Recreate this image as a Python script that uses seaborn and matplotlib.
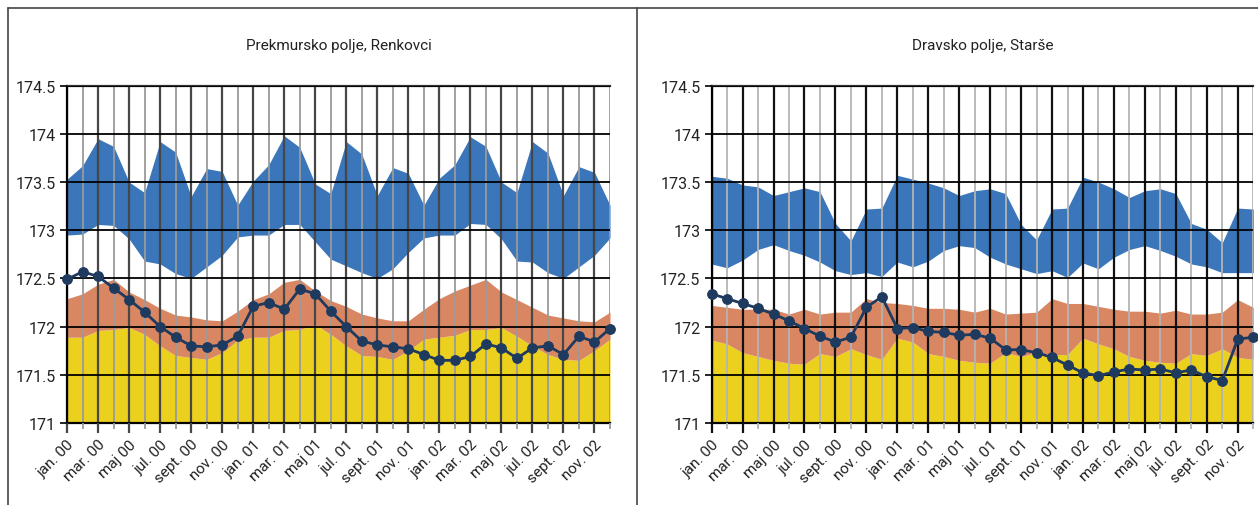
import matplotlib
matplotlib.use("Agg")
import matplotlib.pyplot as plt
import numpy as np
import pandas as pd
import seaborn as sns

# Months Jan 2000 - Dec 2002 (Slovene abbreviations)
month_names = ["jan.", "feb.", "mar.", "apr.", "maj", "jun.",
               "jul.", "avg.", "sept.", "okt.", "nov.", "dec."]
years = ["00", "01", "02"]
month_labels = [f"{m} {y}" for y in years for m in month_names]

# --- Prekmursko polje, Renkovci ---
renk_lower = [171.89, 171.89, 171.96, 171.97, 171.99, 171.92, 171.80, 171.70, 171.68, 171.66, 171.73, 171.86,
              171.89, 171.89, 171.96, 171.97, 172.02, 171.92, 171.80, 171.70, 171.69, 171.66, 171.75, 171.87,
              171.89, 171.91, 171.97, 171.97, 171.99, 171.90, 171.80, 171.71, 171.66, 171.65, 171.75, 171.87]
renk_middle = [172.29, 172.34, 172.44, 172.49, 172.36, 172.28, 172.19, 172.12, 172.10, 172.07, 172.06, 172.16,
               172.28, 172.34, 172.46, 172.49, 172.37, 172.27, 172.21, 172.13, 172.09, 172.06, 172.06, 172.18,
               172.29, 172.37, 172.43, 172.49, 172.36, 172.28, 172.20, 172.12, 172.09, 172.06, 172.05, 172.15]
renk_upper_lo = [172.95, 172.96, 173.06, 173.05, 172.91, 172.68, 172.65, 172.55, 172.50, 172.62, 172.74, 172.93,
                 172.95, 172.95, 173.06, 173.06, 172.88, 172.70, 172.63, 172.56, 172.50, 172.60, 172.77, 172.92,
                 172.95, 172.95, 173.07, 173.06, 172.91, 172.68, 172.67, 172.56, 172.50, 172.62, 172.74, 172.92]
renk_upper_hi = [173.53, 173.67, 173.95, 173.87, 173.50, 173.39, 173.92, 173.81, 173.35, 173.64, 173.61, 173.26,
                 173.51, 173.68, 173.98, 173.86, 173.48, 173.38, 173.92, 173.79, 173.36, 173.65, 173.59, 173.26,
                 173.54, 173.68, 173.97, 173.87, 173.50, 173.39, 173.92, 173.80, 173.36, 173.66, 173.60, 173.26]
renk_level = [172.49, 172.57, 172.52, 172.40, 172.28, 172.15, 172.00, 171.89, 171.80, 171.79, 171.81, 171.90,
              172.21, 172.25, 172.18, 172.39, 172.34, 172.16, 172.00, 171.85, 171.81, 171.79, 171.77, 171.71,
              171.65, 171.65, 171.69, 171.82, 171.78, 171.67, 171.78, 171.80, 171.71, 171.90, 171.84, 171.98]

# --- Dravsko polje, Starše ---
star_lower = [171.86, 171.82, 171.73, 171.69, 171.65, 171.62, 171.61, 171.72, 171.69, 171.77, 171.71, 171.66,
              171.88, 171.84, 171.72, 171.69, 171.65, 171.63, 171.62, 171.73, 171.69, 171.73, 171.71, 171.71,
              171.88, 171.82, 171.77, 171.69, 171.65, 171.63, 171.62, 171.72, 171.70, 171.77, 171.68, 171.66]
star_middle = [172.22, 172.20, 172.18, 172.18, 172.18, 172.13, 172.18, 172.13, 172.15, 172.15, 172.29, 172.25,
               172.24, 172.22, 172.19, 172.19, 172.18, 172.15, 172.19, 172.13, 172.14, 172.15, 172.29, 172.24,
               172.24, 172.21, 172.18, 172.16, 172.16, 172.14, 172.17, 172.13, 172.13, 172.15, 172.28, 172.20]
star_upper_lo = [172.65, 172.61, 172.69, 172.80, 172.85, 172.79, 172.74, 172.67, 172.58, 172.54, 172.56, 172.52,
                 172.67, 172.62, 172.68, 172.79, 172.84, 172.82, 172.72, 172.65, 172.60, 172.55, 172.58, 172.51,
                 172.66, 172.60, 172.72, 172.80, 172.84, 172.79, 172.73, 172.65, 172.62, 172.56, 172.56, 172.56]
star_upper_hi = [173.56, 173.54, 173.47, 173.45, 173.36, 173.40, 173.44, 173.40, 173.07, 172.89, 173.22, 173.23,
                 173.57, 173.53, 173.49, 173.44, 173.36, 173.41, 173.43, 173.38, 173.06, 172.90, 173.22, 173.23,
                 173.55, 173.50, 173.43, 173.34, 173.41, 173.43, 173.38, 173.07, 173.01, 172.87, 173.23, 173.22]
star_level = [172.34, 172.29, 172.24, 172.19, 172.13, 172.06, 171.98, 171.90, 171.84, 171.89, 172.20, 172.31,
              171.98, 171.99, 171.95, 171.94, 171.91, 171.92, 171.88, 171.76, 171.76, 171.73, 171.68, 171.60,
              171.52, 171.49, 171.53, 171.56, 171.55, 171.56, 171.52, 171.55, 171.48, 171.44, 171.87, 171.89]

y_ticks = [171, 171.5, 172, 172.5, 173, 173.5, 174, 174.5]
y_tick_labels = ["171", "171.5", "172", "172.5", "173", "173.5", "174", "174.5"]

YELLOW = "#EBD11E"
ORANGE = "#D98763"
BLUE = "#3B76BA"
NAVY = "#1E3A5F"

sns.set_style("white")
plt.rcParams["font.family"] = ["Roboto", "DejaVu Sans"]
plt.rcParams["font.stretch"] = "condensed"

fig = plt.figure(figsize=(12.58, 5.06), dpi=100)

panels = [
    ("Prekmursko polje, Renkovci", [0.0533, 0.1621, 0.4316, 0.6666],
     renk_lower, renk_middle, renk_upper_lo, renk_upper_hi, renk_level, "#474747", "#9a9a9a"),
    ("Dravsko polje, Starše", [0.5657, 0.1621, 0.4305, 0.6666],
     star_lower, star_middle, star_upper_lo, star_upper_hi, star_level, "#111111", "#b4b4b4"),
]

for title, rect, lower, middle, up_lo, up_hi, level, major_col, minor_col in panels:
    ax = fig.add_axes(rect)
    x = np.arange(len(month_labels))
    ax.fill_between(x, 171, lower, color=YELLOW, lw=0, zorder=1)
    ax.fill_between(x, lower, middle, color=ORANGE, lw=0, zorder=1)
    ax.fill_between(x, up_lo, up_hi, color=BLUE, lw=0, zorder=1)

    df = pd.DataFrame({"idx": x, "level": level})
    sns.lineplot(data=df, x="idx", y="level", ax=ax, color=NAVY, lw=2.0,
                 marker="o", markersize=7, markeredgecolor=NAVY, zorder=4,
                 clip_on=False)

    ax.set_xlim(0, len(month_labels) - 1)
    ax.set_ylim(171, 174.5)
    ax.set_xlabel("")
    ax.set_ylabel("")

    ax.set_xticks(x[::2])
    ax.set_xticklabels(month_labels[::2], rotation=45, ha="right",
                       rotation_mode="anchor", fontsize=11, color="#222222")
    ax.set_xticks(x[1::2], minor=True)
    ax.set_yticks(y_ticks)
    ax.set_yticklabels(y_tick_labels, fontsize=11.5, color="#222222")

    ax.grid(False)
    ax.set_axisbelow(False)
    for xv in x[::2]:
        ax.axvline(xv, color=major_col, lw=1.6, zorder=2.5)
    for xv in x[1::2]:
        ax.axvline(xv, color=minor_col, lw=1.3, zorder=2.5)
    for yv in y_ticks:
        ax.axhline(yv, color="#000000", lw=1.3, zorder=2.6)

    ax.tick_params(axis="x", which="major", length=7, width=1.6, color=major_col,
                   direction="out", pad=3, bottom=True)
    ax.tick_params(axis="x", which="minor", length=4, width=1.3, color=minor_col,
                   direction="out", bottom=True)
    ax.tick_params(axis="y", which="major", length=5, width=1.2, color="#000000",
                   direction="out", pad=3, left=True)

    ax.spines["right"].set_visible(False)
    ax.spines["top"].set_color("#333333")
    ax.spines["top"].set_linewidth(1.6)
    for side in ["left", "bottom"]:
        ax.spines[side].set_color("#000000")
        ax.spines[side].set_linewidth(1.6)

    cx = rect[0] + rect[2] / 2
    fig.text(cx, 1 - 46 / 506, title, ha="center", va="center",
             fontsize=11, color="#222222")

# Panel frames
W, H = 1258, 506
fig.add_artist(plt.Line2D([8 / W, 1.0], [1 - 9 / H, 1 - 9 / H], color="#444444", lw=1.2))
fig.add_artist(plt.Line2D([8 / W, 8 / W], [0, 1 - 9 / H], color="#444444", lw=1.2))
fig.add_artist(plt.Line2D([637 / W, 637 / W], [0, 1 - 9 / H], color="#444444", lw=1.2))

fig.savefig("out.png", dpi=100)
